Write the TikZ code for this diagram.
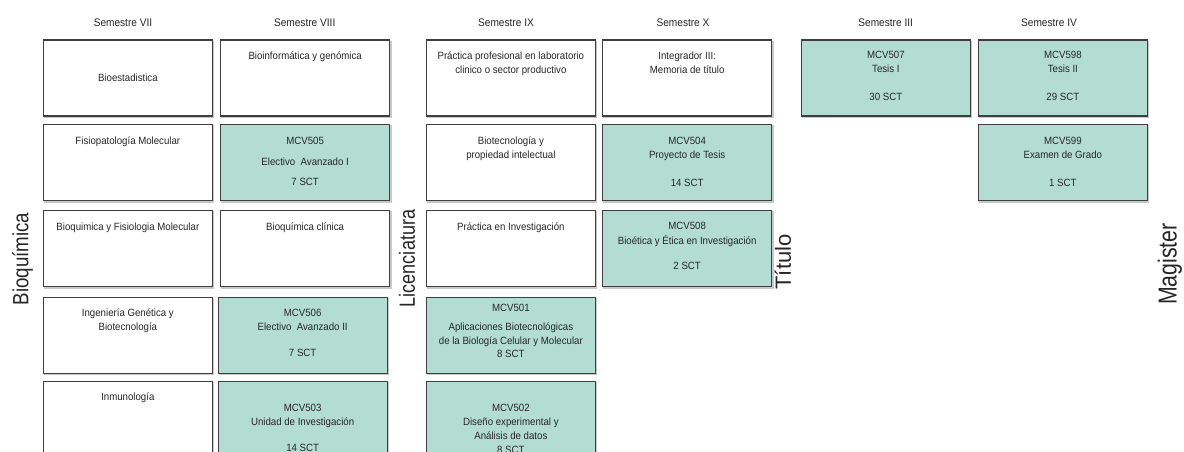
\documentclass[tikz,border=0pt]{standalone}
\usepackage{fontspec}
\setmainfont{Liberation Sans}[FakeStretch=0.92]
\newfontfamily\sidefont{Liberation Sans}
\definecolor{mcvfill}{HTML}{B3DCD3}
\definecolor{boxborder}{HTML}{3F3F3F}
\definecolor{shadowgrey}{HTML}{C8C8C8}
\newcommand\crsfont{\fontsize{10.5}{13.5}\selectfont}
\newcommand\hdfont{\fontsize{11}{13}\selectfont}
\tikzset{
  course/.style={draw=boxborder, line width=1.3pt, minimum width=169pt, minimum height=76pt,
    anchor=north west, inner sep=0pt,
    preaction={draw=shadowgrey, line width=1.2pt, transform canvas={xshift=1.3pt,yshift=-1.3pt}}},
  plainbox/.style={course, fill=white},
  mcvbox/.style={course, fill=mcvfill},
  txt/.style={anchor=north, inner sep=0pt, align=center, font=\crsfont, text=black!85},
  head/.style={inner sep=0pt, font=\hdfont, text=black!85},
  side/.style={rotate=90, inner sep=0pt, text=black!85},
}
\begin{document}
\begin{tikzpicture}[x=1pt,y=-1pt]
\useasboundingbox (0,0) rectangle (1184,452);
\clip (0,0) rectangle (1184,452);
\fill[white] (0,0) rectangle (1184,452);

% headers
\node[head] (h7) at (123,22.5) {Semestre VII};
\node[head] (h8) at (304.7,22.5) {Semestre VIII};
\node[head] (h9) at (506,22.5) {Semestre IX};
\node[head] (h10) at (683,22.5) {Semestre X};
\node[head] (h3) at (885.7,22.5) {Semestre III};
\node[head] (h4) at (1049,22.5) {Semestre IV};

% side labels
\node[side, font=\sidefont\fontsize{22}{22}\selectfont] (lbio) at (22.5,259) {\scalebox{0.85}[1]{Bioquímica}};
\node[side, font=\sidefont\fontsize{22}{22}\selectfont] (llic) at (407,258.5) {\scalebox{0.82}[1]{Licenciatura}};
\node[side, font=\sidefont\fontsize{22}{22}\selectfont] (ltit) at (783,262) {Título};
\node[side, font=\sidefont\fontsize{26}{26}\selectfont] (lmag) at (1170,264) {\scalebox{0.82}[1]{Magister}};

% row 1
\node[plainbox] (b11) at (42.7,39.3) {};
\node[plainbox] (b12) at (220,39.3) {};
\node[plainbox] (b13) at (425.7,39.3) {};
\node[plainbox] (b14) at (602,39.3) {};
\node[mcvbox] (b15) at (800.7,39.3) {};
\node[mcvbox] (b16) at (977.7,39.3) {};
\node[txt, anchor=center] (t11) at (b11.center) {Bioestadistica};
\node[txt] (t12) at ([yshift=-11pt]b12.north) {\strut Bioinformática y genómica};
\node[txt] (t13) at ([yshift=-11pt]b13.north) {\strut Práctica profesional en laboratorio\\clinico o sector productivo};
\node[txt] (t14) at ([yshift=-11pt]b14.north) {\strut Integrador III:\\Memoria de título};
\node[txt] (t15) at ([yshift=-10pt]b15.north) {\strut MCV507\\Tesis I\\[14.5pt]30 SCT};
\node[txt] (t16) at ([yshift=-10pt]b16.north) {\strut MCV598\\Tesis II\\[14.5pt]29 SCT};

% row 2
\node[plainbox] (b21) at (42.7,124) {};
\node[mcvbox] (b22) at (220,124) {};
\node[plainbox] (b23) at (425.7,124) {};
\node[mcvbox] (b24) at (602,124) {};
\node[mcvbox] (b26) at (977.7,124) {};
\node[txt] (t21) at ([yshift=-11.3pt]b21.north) {\strut Fisiopatología Molecular};
\node[txt] (t22) at ([yshift=-11.3pt]b22.north) {\strut MCV505\\[7.5pt]Electivo~ Avanzado I\\[6.5pt]7 SCT};
\node[txt] (t23) at ([yshift=-11.3pt]b23.north) {\strut Biotecnología y\\propiedad intelectual};
\node[txt] (t24) at ([yshift=-11.3pt]b24.north) {\strut MCV504\\Proyecto de Tesis\\[14.5pt]14 SCT};
\node[txt] (t26) at ([yshift=-11.3pt]b26.north) {\strut MCV599\\Examen de Grado\\[14.5pt]1 SCT};

% row 3
\node[plainbox] (b31) at (42.7,210) {};
\node[plainbox] (b32) at (220,210) {};
\node[plainbox] (b33) at (425.7,210) {};
\node[mcvbox] (b34) at (602,210) {};
\node[txt] (t31) at ([yshift=-11.3pt]b31.north) {\strut Bioquimica y Fisiologia Molecular};
\node[txt] (t32) at ([yshift=-11.3pt]b32.north) {\strut Bioquímica clínica};
\node[txt] (t33) at ([yshift=-11.3pt]b33.north) {\strut Práctica en Investigación};
\node[txt] (t34) at ([yshift=-10.3pt]b34.north) {\strut MCV508\\[1.5pt]Bioética y Ética en Investigación\\[11.5pt]2 SCT};

% row 4
\node[plainbox] (b41) at (42.7,296.7) {};
\node[mcvbox] (b42) at (217.5,296.7) {};
\node[mcvbox] (b43) at (425.7,296.7) {};
\node[txt] (t41) at ([yshift=-10.6pt]b41.north) {\strut Ingeniería Genética y\\Biotecnología};
\node[txt] (t42) at ([yshift=-10.6pt]b42.north) {\strut MCV506\\[0.5pt]Electivo~ Avanzado II\\[12.5pt]7 SCT};
\node[txt] (t43) at ([yshift=-5.6pt]b43.north) {\strut MCV501\\[5.5pt]Aplicaciones Biotecnológicas\\de la Biología Celular y Molecular\\8 SCT};

% row 5
\node[plainbox] (b51) at (42.7,381) {};
\node[mcvbox] (b52) at (217.5,381) {};
\node[mcvbox] (b53) at (425.7,381) {};
\node[txt] (t51) at ([yshift=-10.3pt]b51.north) {\strut Inmunología};
\node[txt] (t52) at ([yshift=-21.3pt]b52.north) {\strut MCV503\\[0.5pt]Unidad de Investigación\\[12.5pt]14 SCT};
\node[txt] (t53) at ([yshift=-21.3pt]b53.north) {\strut MCV502\\[0.5pt]Diseño experimental y\\[0.5pt]Análisis de datos\\8 SCT};
\end{tikzpicture}
\end{document}
